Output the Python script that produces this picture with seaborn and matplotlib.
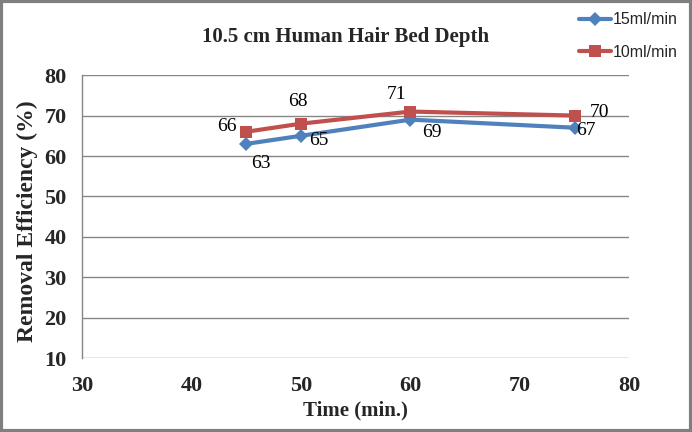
import matplotlib
matplotlib.use('Agg')
import matplotlib.pyplot as plt
import pandas as pd
import seaborn as sns

# data
time_min = [45, 50, 60, 75]
eff_15 = [63, 65, 69, 67]
eff_10 = [66, 68, 71, 70]
series_names = ['15ml/min', '10ml/min']

# label offsets (pixels) for the data labels, per series
offsets_15 = [(15, -20), (18, -5), (21, -13), (11, -3)]
offsets_10 = [(-19, 5), (-3, 22), (-14, 17), (25, 3)]

df = pd.DataFrame({
    'time': time_min * 2,
    'eff': eff_15 + eff_10,
    'series': [series_names[0]] * 4 + [series_names[1]] * 4,
})

sns.set_style('white')
plt.rcParams['font.family'] = ['Liberation Serif', 'DejaVu Serif']

blue = '#4F81BD'
red = '#C0504D'

fig = plt.figure(figsize=(6.92, 4.32), dpi=100)
ax = fig.add_axes([0.1185, 0.171, 0.791, 0.655])

sns.lineplot(data=df, x='time', y='eff', hue='series', style='series',
             hue_order=series_names, palette=[blue, red],
             markers={'15ml/min': 'D', '10ml/min': 's'},
             dashes=False, linewidth=3, markersize=8, markeredgewidth=0,
             ax=ax, legend=False)
# diamond a bit smaller than the square
ax.lines[0].set_markersize(7)
ax.lines[1].set_markersize(9)

px = 0.72  # pixels -> points at dpi 100
for x, y, (dx, dy) in zip(time_min, eff_15, offsets_15):
    ax.annotate(str(y), (x, y), xytext=(dx * px, dy * px), textcoords='offset points',
                ha='center', va='center', fontsize=14, color='black')
for x, y, (dx, dy) in zip(time_min, eff_10, offsets_10):
    ax.annotate(str(y), (x, y), xytext=(dx * px, dy * px), textcoords='offset points',
                ha='center', va='center', fontsize=14, color='black')

ax.set_xlim(30, 80)
ax.set_ylim(10, 80)
ax.set_xticks(range(30, 81, 10))
ax.set_yticks(range(10, 81, 10))
ax.yaxis.grid(True, color='#868686', linewidth=1)
ax.xaxis.grid(False)
for s in ['top', 'right', 'bottom']:
    ax.spines[s].set_visible(False)
ax.spines['left'].set_color('#868686')
ax.spines['left'].set_linewidth(1)
ax.tick_params(axis='both', length=0, labelsize=16)
ax.tick_params(axis='y', pad=11)
ax.tick_params(axis='x', pad=13)
for lab in ax.get_xticklabels() + ax.get_yticklabels():
    lab.set_fontweight('bold')

ax.set_xlabel('Time (min.)', fontsize=15, fontweight='bold', va='center')
ax.set_ylabel('Removal Efficiency (%)', fontsize=17, fontweight='bold', va='center')
ax.xaxis.set_label_coords(0.5, -0.184)
ax.yaxis.set_label_coords(-0.099, 0.484)

fig.text(0.5, 0.915, '10.5 cm Human Hair Bed Depth', ha='center', va='center',
         fontsize=15, fontweight='bold')

handles = [
    plt.Line2D([], [], color=blue, linewidth=3, marker='D', markersize=7, markeredgewidth=0),
    plt.Line2D([], [], color=red, linewidth=3, marker='s', markersize=9, markeredgewidth=0),
]
fig.legend(handles, series_names, loc='upper right', bbox_to_anchor=(0.995, 0.997),
           frameon=False, prop={'family': 'Liberation Sans', 'size': 11.5},
           handlelength=2.0, handletextpad=0.1, labelspacing=1.1, borderaxespad=0.3)

# outer frame
fig.patches.append(plt.Rectangle((0.002, 0.003), 0.996, 0.994, transform=fig.transFigure,
                                 fill=False, edgecolor='#7f7f7f', linewidth=3))

fig.savefig('out.png', dpi=100)
